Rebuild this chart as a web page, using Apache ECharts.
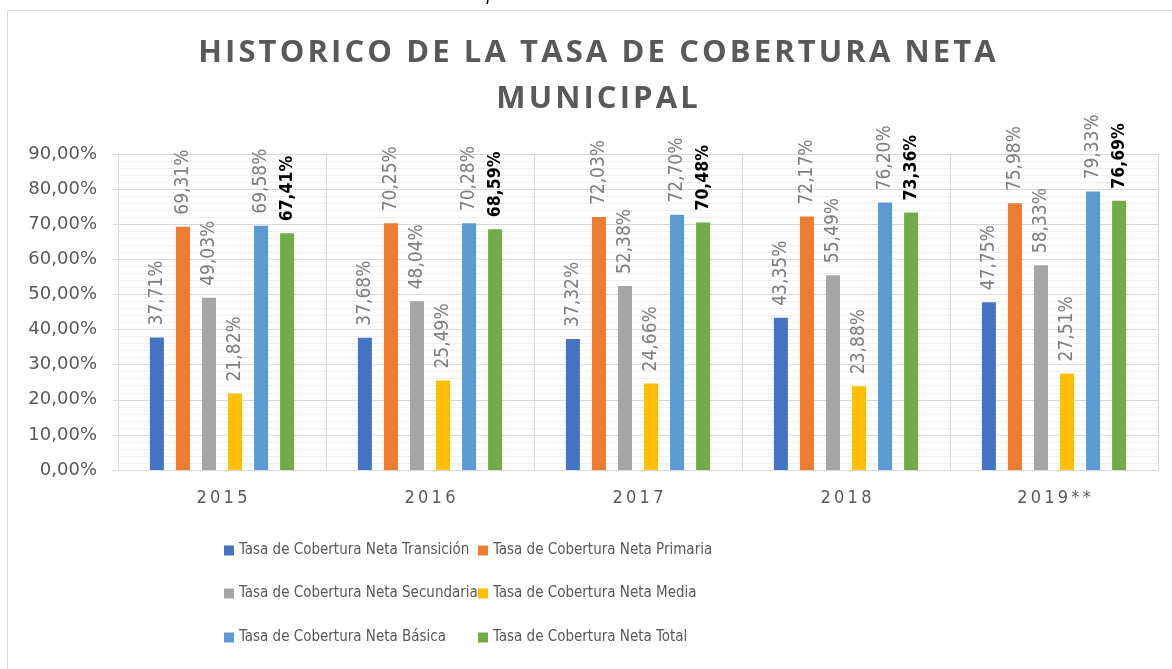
<!DOCTYPE html>
<html><head><meta charset="utf-8">
<script src="https://cdn.jsdelivr.net/npm/echarts@6/dist/echarts.min.js"></script>
<style>html,body{margin:0;padding:0;background:#fff}#c{width:1172px;height:669px}</style>
</head><body><div id="c"></div>
<script>
const categories = ['2015', '2016', '2017', '2018', '2019**'];
const seriesNames = [
  'Tasa de Cobertura Neta Transición',
  'Tasa de Cobertura Neta Primaria',
  'Tasa de Cobertura Neta Secundaria',
  'Tasa de Cobertura Neta Media',
  'Tasa de Cobertura Neta Básica',
  'Tasa de Cobertura Neta Total'
];
const transicion = [37.71, 37.68, 37.32, 43.35, 47.75];
const primaria   = [69.31, 70.25, 72.03, 72.17, 75.98];
const secundaria = [49.03, 48.04, 52.38, 55.49, 58.33];
const media      = [21.82, 25.49, 24.66, 23.88, 27.51];
const basica     = [69.58, 70.28, 72.70, 76.20, 79.33];
const total      = [67.41, 68.59, 70.48, 73.36, 76.69];
const yTicks = [0, 10, 20, 30, 40, 50, 60, 70, 80, 90];
const titleLines = ['HISTORICO DE LA TASA DE COBERTURA NETA', 'MUNICIPAL'];

const colors = ['#4472C4', '#ED7D31', '#A5A5A5', '#FFC000', '#5B9BD5', '#70AD47'];
const values = [transicion, primaria, secundaria, media, basica, total];
const COND = '"DejaVu Sans Condensed", sans-serif';
const WIDE = '"DejaVu Sans", sans-serif';
const fmt = v => v.toFixed(2).replace('.', ',') + '%';
const spaced = (s, sep) => s.split('').join(sep);

const chart = echarts.init(document.getElementById('c'), null, {renderer: 'canvas'});
const series = values.map((d, i) => ({
  name: seriesNames[i],
  type: 'bar',
  data: d,
  barWidth: 14,
  barGap: '86%',
  itemStyle: {color: colors[i]},
  label: {
    show: true,
    position: 'top',
    rotate: 90,
    align: 'left',
    verticalAlign: 'middle',
    distance: 12,
    formatter: p => fmt(p.value),
    fontFamily: COND,
    fontSize: i === 5 ? 17.5 : 19,
    color: i === 5 ? '#000000' : '#7f7f7f',
    fontWeight: i === 5 ? 'bold' : 'normal'
  }
}));

// legend layout: 2 columns x 3 rows
const legendCols = [219, 473];
const legendRows = [538, 581, 625];
const legends = seriesNames.map((n, i) => ({
  data: [n],
  left: legendCols[i % 2],
  top: legendRows[Math.floor(i / 2)],
  itemWidth: 10, itemHeight: 10, icon: 'rect',
  textStyle: {fontFamily: COND, fontSize: 15, color: '#595959'}
}));

chart.setOption({
  animation: false,
  color: colors,
  graphic: [
    {type: 'rect', shape: {x: 7.5, y: 10.5, width: 1300, height: 800}, style: {fill: 'none', stroke: '#d9d9d9', lineWidth: 1}, silent: true, z: -10},
    {type: 'text', left: 0, top: -14, style: {text: 'Gráfico 11. Histórico de la tasa de cobertura neta municipal', font: 'italic 19px "DejaVu Sans Condensed", sans-serif', fill: '#000'}},
    {type: 'text', x: 597, y: 53, style: {text: spaced(titleLines[0], '\u200A'), align: 'center', verticalAlign: 'middle', font: 'bold 31px "Open Sans", sans-serif', fill: '#595959'}},
    {type: 'text', x: 597, y: 99, style: {text: spaced(titleLines[1], '\u200A'), align: 'center', verticalAlign: 'middle', font: 'bold 31px "Open Sans", sans-serif', fill: '#595959'}}
  ],
  legend: legends,
  grid: {left: 118, right: 14, top: 154, bottom: 199},
  xAxis: {
    type: 'category',
    data: categories,
    axisLine: {lineStyle: {color: '#d9d9d9'}},
    axisTick: {show: false},
    splitLine: {show: true, lineStyle: {color: '#d9d9d9'}},
    axisLabel: {fontFamily: COND, fontSize: 18, color: '#595959', margin: 19, formatter: v => spaced(v, '\u2009')}
  },
  yAxis: {
    type: 'value',
    min: 0, max: 90, interval: 10,
    axisLine: {show: true, lineStyle: {color: '#d9d9d9'}},
    axisTick: {show: true, length: 5, lineStyle: {color: '#d9d9d9'}},
    axisLabel: {fontFamily: WIDE, fontSize: 18, color: '#595959', margin: 21, formatter: v => yTicks.includes(v) ? fmt(v) : ''},
    splitLine: {lineStyle: {color: '#d9d9d9'}},
    minorTick: {show: false, splitNumber: 5},
    minorSplitLine: {show: true, lineStyle: {color: '#efefef'}}
  },
  series: series
});
</script></body></html>
